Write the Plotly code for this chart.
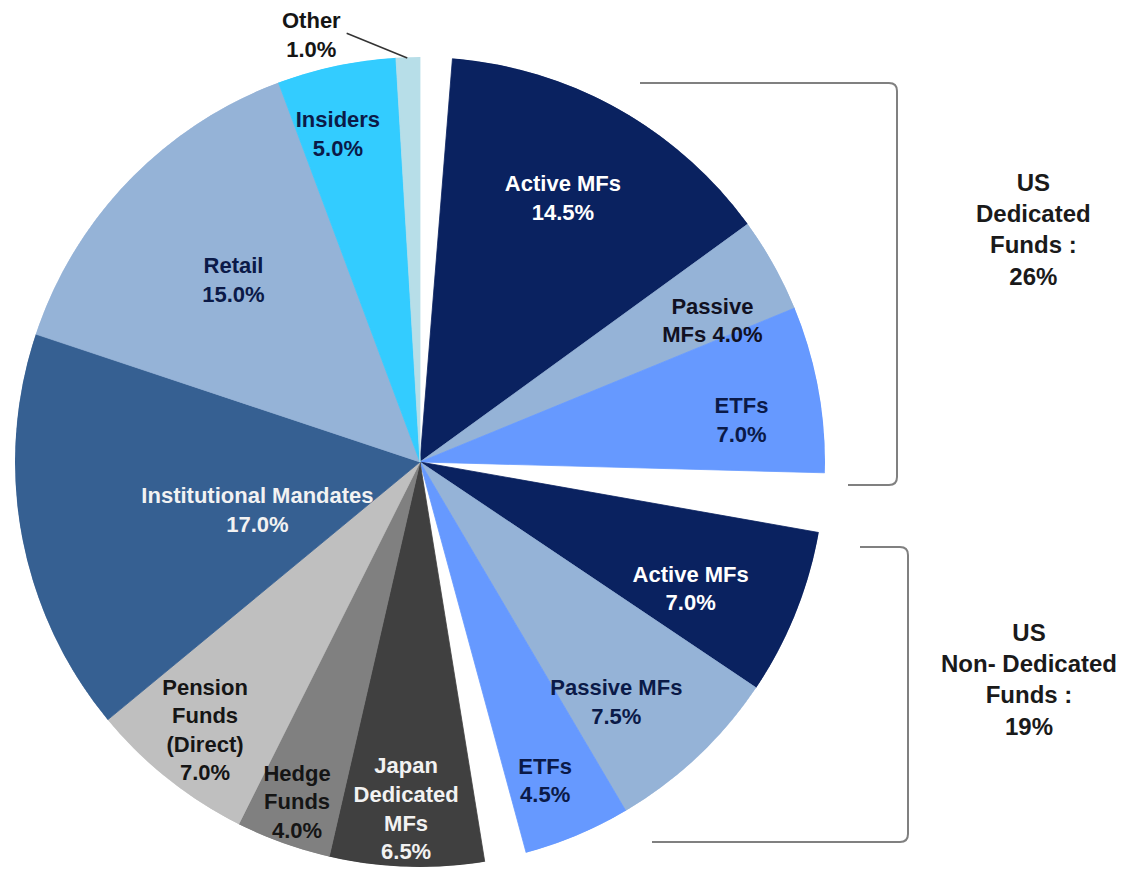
import math
import plotly.graph_objects as go

# ---------------- data ----------------
categories = ["Active MFs", "Passive MFs", "ETFs",
              "Active MFs", "Passive MFs", "ETFs",
              "Japan Dedicated MFs", "Hedge Funds", "Pension Funds (Direct)",
              "Institutional Mandates", "Retail", "Insiders", "Other"]
values = [14.5, 4.0, 7.0,
          7.0, 7.5, 4.5,
          6.5, 4.0, 7.0,
          17.0, 15.0, 5.0, 1.0]
label_names = ["Active MFs", "Passive<br>MFs", "ETFs",
               "Active MFs", "Passive MFs", "ETFs",
               "Japan<br>Dedicated<br>MFs", "Hedge<br>Funds", "Pension<br>Funds<br>(Direct)",
               "Institutional Mandates", "Retail", "Insiders", "Other"]
label_sep = ["<br>", " ", "<br>", "<br>", "<br>", "<br>", "<br>", "<br>", "<br>",
             "<br>", "<br>", "<br>", "<br>"]
group_names = ["US<br>Dedicated<br>Funds :", "US<br>Non- Dedicated<br>Funds :"]
group_members = [[0, 1, 2], [3, 4, 5]]

# ---------------- styles ----------------
NAVY = "#0a2260"
LBLUE = "#95b3d7"
BLUE = "#6699ff"
colors = [NAVY, LBLUE, BLUE, NAVY, LBLUE, BLUE,
          "#404040", "#808080", "#bfbfbf", "#366092", LBLUE, "#33ccff", "#b7dee8"]
text_colors = ["#ffffff", "#111122", "#0b1a48", "#ffffff", "#0b1a48", "#0b1a48",
               "#f2f2f2", "#151515", "#151515", "#f2f2f2", "#0b1a48", "#0b1a48", "#151515"]
# angular gaps (degrees) inserted before given slice index
gaps_before = {0: 4.6, 3: 8.5, 6: 6.0}
label_r = [0.737, 0.80, 0.80, 0.74, 0.77, 0.85, 0.862, 0.897, 0.852, 0.42, 0.64, 0.83, 1.088]
label_dtheta = [-0.7, 3.65, 3.3, 3.45, 4.3, 1.55, 0.4, 0.0, 0.0, -6.6, 0.0, -2.2, -12.6]

FONT = "Liberation Sans, Arial, sans-serif"
FS = 22

# ---------------- geometry from data ----------------
total_gap = sum(gaps_before.values())
scale = (360.0 - total_gap) / sum(values)
mids, widths = [], []
ang = 0.0
for i, v in enumerate(values):
    ang += gaps_before.get(i, 0.0)
    w = v * scale
    mids.append(ang + w / 2)
    widths.append(w)
    ang += w

texts = [f"<b>{n}{s}{v:.1f}%</b>" for n, s, v in zip(label_names, label_sep, values)]
label_theta = [m + d for m, d in zip(mids, label_dtheta)]

oi = len(values) - 1  # smallest slice, labelled outside
inside = list(range(oi))

fig = go.Figure()
fig.add_trace(go.Barpolar(
    r=[1] * len(values), theta=mids, width=widths,
    marker=dict(color=colors, line=dict(color=colors, width=0.8)),
    hovertext=categories, hoverinfo="text", showlegend=False,
))
fig.add_trace(go.Scatterpolar(
    r=[label_r[i] for i in inside], theta=[label_theta[i] for i in inside],
    mode="text", text=[texts[i] for i in inside],
    textposition="middle center",
    textfont=dict(family=FONT, size=FS, color=[text_colors[i] for i in inside]),
    cliponaxis=False, hoverinfo="skip", showlegend=False,
))

W, H = 1135, 871
OFF = 8  # page body margin
cx, cy, R = 420 - OFF, 462 - OFF, 405


def px(x, y):
    return x / W, 1 - y / H


def scr(x, y):
    return px(x - OFF, y - OFF)


def polar_pt(r, theta):
    t = math.radians(theta)
    return px(cx + r * R * math.sin(t), cy - r * R * math.cos(t))


fig.update_layout(
    width=W, height=H, margin=dict(l=0, r=0, t=0, b=0),
    paper_bgcolor="white", plot_bgcolor="white", showlegend=False,
    polar=dict(
        domain=dict(x=[(cx - R) / W, (cx + R) / W], y=[(H - cy - R) / H, (H - cy + R) / H]),
        bgcolor="rgba(0,0,0,0)", hole=0,
        radialaxis=dict(visible=False, range=[0, 1]),
        angularaxis=dict(visible=False, direction="clockwise", rotation=90,
                         showgrid=False, showline=False, showticklabels=False, ticks=""),
    ),
)

# outside label + leader line for the "Other" slice
ox, oy = polar_pt(label_r[oi], label_theta[oi])
fig.add_annotation(x=ox, y=oy, xref="paper", yref="paper", showarrow=False,
                   text=texts[oi], align="center",
                   font=dict(family=FONT, size=FS, color=text_colors[oi]),
                   xanchor="center", yanchor="middle")
lx0, ly0 = polar_pt(1.074, mids[oi] - 8.0)
lx1, ly1 = polar_pt(0.998, mids[oi] - 0.1)
fig.add_shape(type="line", xref="paper", yref="paper", x0=lx0, y0=ly0, x1=lx1, y1=ly1,
              line=dict(color="#333333", width=1.5))


def bracket(x0, y_top, x_side, y_bot, x1, rad=8):
    pts = [
        ("M", scr(x0, y_top)), ("L", scr(x_side - rad, y_top)),
        ("Q", scr(x_side, y_top), scr(x_side, y_top + rad)),
        ("L", scr(x_side, y_bot - rad)),
        ("Q", scr(x_side, y_bot), scr(x_side - rad, y_bot)),
        ("L", scr(x1, y_bot)),
    ]
    s = ""
    for p in pts:
        coords = " ".join(f"{a:.5f},{b:.5f}" for a, b in p[1:])
        s += f"{p[0]} {coords} "
    return s.strip()


fig.add_shape(type="path", xref="paper", yref="paper",
              path=bracket(640, 83, 897, 485, 848),
              line=dict(color="#808080", width=2))
fig.add_shape(type="path", xref="paper", yref="paper",
              path=bracket(860, 547, 908, 842, 652),
              line=dict(color="#808080", width=2))

group_pos = [(1033, 229), (1029, 679)]
for gname, members, (gx, gy) in zip(group_names, group_members, group_pos):
    tot = sum(values[i] for i in members)
    x, y = scr(gx, gy)
    fig.add_annotation(
        x=x, y=y, xref="paper", yref="paper", showarrow=False,
        text=f"<b>{gname}<br>{tot:.0f}%</b>", align="center",
        font=dict(family=FONT, size=24, color="#1a1a1a"),
        xanchor="center", yanchor="middle",
    )

fig.write_html("out.html")
